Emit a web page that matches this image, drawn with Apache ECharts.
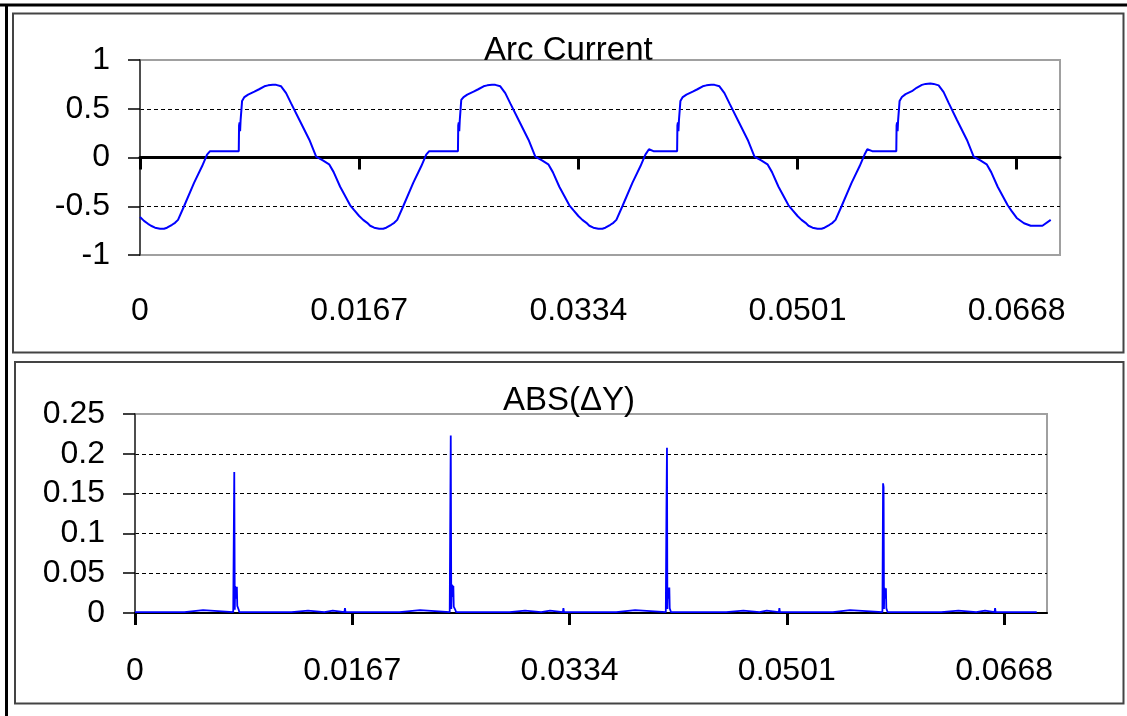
<!DOCTYPE html>
<html>
<head>
<meta charset="utf-8">
<title>Arc Current</title>
<script src="https://cdn.jsdelivr.net/npm/echarts@6/dist/echarts.min.js"></script>
<style>
    html, body { margin: 0; padding: 0; background: #fff; }
    #chart { width: 1127px; height: 716px; }
</style>
</head>
<body>
<div id="chart"></div>
<script>
// x tick labels (seconds), shared by both panels
const xTicks = [0, 0.0167, 0.0334, 0.0501, 0.0668]
const xMax = 0.0701

// Arc Current, time in ms (one row pair per cycle)
const arcTimeMs = [
    0.000, 0.305, 0.610, 0.839, 1.144, 1.525, 1.830, 2.059, 2.440, 2.669, 2.898, 3.355, 4.118, 4.728, 5.109, 5.338,
    7.526, 7.549, 7.587, 7.626, 7.664, 7.740, 7.778, 7.954, 8.236, 8.716, 9.074, 9.479, 9.761, 10.119, 10.371,
    10.752, 11.133, 11.515, 12.148, 12.910, 13.421, 13.932, 14.412, 14.756, 15.251, 16.014, 16.319,

    16.700, 17.005, 17.310, 17.539, 17.844, 18.225, 18.530, 18.759, 19.140, 19.369, 19.598, 20.055, 20.818, 21.428, 21.809, 22.038,
    24.226, 24.249, 24.287, 24.326, 24.364, 24.440, 24.478, 24.654, 24.936, 25.416, 25.774, 26.179, 26.461, 26.819, 27.071,
    27.452, 27.833, 28.215, 28.848, 29.610, 30.121, 30.632, 31.112, 31.456, 31.951, 32.714, 33.019,

    33.400, 33.705, 34.010, 34.239, 34.544, 34.925, 35.230, 35.459, 35.840, 36.069, 36.298, 36.755, 37.518, 38.128, 38.509, 38.780,
    38.890, 39.120, 40.926, 40.949, 40.987, 41.026, 41.064, 41.140, 41.178, 41.354, 41.636, 42.116, 42.474, 42.879, 43.161, 43.519, 43.771,
    44.152, 44.533, 44.915, 45.548, 46.310, 46.821, 47.332, 47.812, 48.156, 48.651, 49.414, 49.719,

    50.100, 50.405, 50.710, 50.939, 51.244, 51.625, 51.930, 52.159, 52.540, 52.769, 52.998, 53.455, 54.218, 54.828, 55.209, 55.420,
    55.560, 55.790, 57.626, 57.649, 57.687, 57.726, 57.764, 57.840, 57.878, 58.054, 58.336, 58.816, 59.174, 59.579, 59.861, 60.219, 60.471,
    60.852, 61.233, 61.615, 62.248, 63.010, 63.521, 64.032, 64.512, 64.856, 65.351, 66.114, 66.419,

    66.800, 67.357, 67.868, 68.760, 69.393
]
const arcCurrent = [
    -0.61, -0.65, -0.68, -0.70, -0.72, -0.73, -0.73, -0.72, -0.69, -0.67, -0.64, -0.50, -0.26, -0.09, 0.03, 0.065,
    0.065, 0.33, 0.36, 0.27, 0.38, 0.40, 0.58, 0.62, 0.645, 0.675, 0.70, 0.73, 0.74, 0.745, 0.745,
    0.73, 0.66, 0.555, 0.385, 0.18, 0.01, -0.03, -0.07, -0.15, -0.30, -0.49, -0.54,

    -0.60, -0.64, -0.67, -0.70, -0.72, -0.73, -0.73, -0.72, -0.69, -0.67, -0.64, -0.50, -0.26, -0.09, 0.03, 0.065,
    0.065, 0.33, 0.36, 0.27, 0.38, 0.40, 0.59, 0.62, 0.645, 0.675, 0.70, 0.73, 0.74, 0.745, 0.745,
    0.73, 0.66, 0.555, 0.385, 0.18, 0.01, -0.03, -0.07, -0.15, -0.30, -0.49, -0.54,

    -0.60, -0.64, -0.67, -0.70, -0.72, -0.73, -0.73, -0.72, -0.69, -0.67, -0.64, -0.50, -0.26, -0.09, 0.03, 0.085,
    0.085, 0.065, 0.065, 0.33, 0.36, 0.27, 0.38, 0.40, 0.58, 0.62, 0.645, 0.675, 0.70, 0.73, 0.74, 0.745, 0.745,
    0.73, 0.66, 0.555, 0.385, 0.18, 0.01, -0.03, -0.07, -0.15, -0.30, -0.49, -0.54,

    -0.60, -0.64, -0.67, -0.70, -0.72, -0.73, -0.73, -0.72, -0.69, -0.67, -0.64, -0.50, -0.26, -0.09, 0.03, 0.085,
    0.085, 0.065, 0.065, 0.33, 0.36, 0.27, 0.38, 0.40, 0.58, 0.62, 0.65, 0.68, 0.715, 0.745, 0.755, 0.76, 0.755,
    0.74, 0.67, 0.56, 0.385, 0.18, 0.01, -0.03, -0.07, -0.15, -0.30, -0.49, -0.55,

    -0.62, -0.675, -0.70, -0.70, -0.64
]

// ABS(dY), time in ms
const dyTimeMs = [
    0.00, 3.80, 3.84, 5.23, 5.27, 7.55, 7.63, 7.67, 7.70, 7.73, 7.76, 7.79, 7.83, 7.86, 7.92, 7.97, 8.02,
    12.03, 12.07, 13.30, 13.34, 14.56, 14.60, 15.20, 15.24, 16.10, 16.14, 16.18,
    20.33, 20.37, 21.91, 21.95, 24.19, 24.27, 24.31, 24.34, 24.37, 24.40, 24.43, 24.47, 24.50, 24.56, 24.62, 24.68,
    28.79, 28.83, 29.98, 30.02, 31.22, 31.26, 31.90, 31.94, 32.89, 32.93, 32.97,
    36.99, 37.03, 38.44, 38.48, 40.80, 40.85, 40.89, 40.92, 40.95, 40.98, 41.01, 41.04, 41.07, 41.10, 41.15, 41.20,
    45.44, 45.48, 46.76, 46.80, 48.00, 48.04, 48.56, 48.60, 49.49, 49.53, 49.57,
    53.64, 53.68, 54.96, 55.00, 57.45, 57.50, 57.54, 57.57, 57.60, 57.63, 57.66, 57.69, 57.72, 57.75, 57.80, 57.85,
    61.97, 62.01, 63.29, 63.33, 64.66, 64.70, 65.34, 65.38, 66.07, 66.11, 66.15, 69.31
]
const dyValue = [
    0.001, 0.001, 0.0035, 0.0035, 0.001, 0.001, 0.177, 0.004, 0.034, 0.018, 0.032, 0.024, 0.033, 0.009, 0.008, 0.004, 0.001,
    0.001, 0.003, 0.003, 0.001, 0.001, 0.003, 0.003, 0.001, 0.001, 0.006, 0.001,
    0.001, 0.0035, 0.0035, 0.001, 0.001, 0.223, 0.005, 0.036, 0.020, 0.035, 0.026, 0.034, 0.008, 0.006, 0.004, 0.001,
    0.001, 0.003, 0.003, 0.001, 0.001, 0.003, 0.003, 0.001, 0.001, 0.006, 0.001,
    0.001, 0.0035, 0.0035, 0.001, 0.001, 0.130, 0.2075, 0.005, 0.032, 0.018, 0.031, 0.024, 0.032, 0.006, 0.004, 0.001,
    0.001, 0.003, 0.003, 0.001, 0.001, 0.003, 0.003, 0.001, 0.001, 0.006, 0.001,
    0.001, 0.0035, 0.0035, 0.001, 0.001, 0.163, 0.158, 0.005, 0.032, 0.018, 0.030, 0.022, 0.031, 0.006, 0.004, 0.001,
    0.001, 0.003, 0.003, 0.001, 0.001, 0.003, 0.003, 0.001, 0.001, 0.006, 0.001, 0.001
]

const FONT = 'Liberation Sans, Arial, sans-serif'
const labelStyle = { color: '#000', fontSize: 32, fontFamily: FONT }
const dashed = { color: '#000', width: 1, type: [4, 3] }

const toPairs = (times, values) => times.map((t, i) => [t / 1000, values[i]])

const xAxisBase = (gridIndex, lineWidth, margin) => ({
    type: 'value',
    gridIndex,
    min: 0,
    max: xMax,
    interval: 0.0167,
    axisLine: { onZero: true, lineStyle: { color: '#000', width: lineWidth } },
    axisTick: { show: true, inside: false, length: 12, customValues: xTicks, lineStyle: { color: '#000', width: 3 } },
    axisLabel: Object.assign({ margin, customValues: xTicks, formatter: v => '' + (+v.toFixed(4)) }, labelStyle),
    splitLine: { show: false }
})

const yAxisBase = (gridIndex, min, max, interval) => ({
    type: 'value',
    gridIndex,
    min, max, interval,
    axisLine: { show: true, onZero: false, lineStyle: { color: '#333', width: 1.5 } },
    axisTick: { show: true, inside: false, length: 12, lineStyle: { color: '#000', width: 1.5 } },
    axisLabel: Object.assign({ margin: 30 }, labelStyle),
    splitLine: { show: true, showMinLine: false, showMaxLine: false, lineStyle: dashed }
})

const myChart = echarts.init(document.getElementById('chart'))

myChart.setOption({
    animation: false,
    backgroundColor: '#fff',
    textStyle: { fontFamily: FONT },
    title: [
        { text: 'Arc Current', left: 484, top: 34, padding: 0, textStyle: { fontSize: 33, fontWeight: 'normal', color: '#000', fontFamily: FONT } },
        { text: 'ABS(ΔY)', left: 503, top: 384, padding: 0, textStyle: { fontSize: 33, fontWeight: 'normal', color: '#000', fontFamily: FONT } }
    ],
    grid: [
        { left: 140, top: 60, width: 920, height: 195, show: true, borderColor: '#a0a0a0', borderWidth: 2, backgroundColor: '#fff' },
        { left: 135, top: 414, width: 912, height: 199, show: true, borderColor: '#a0a0a0', borderWidth: 2, backgroundColor: '#fff' }
    ],
    xAxis: [
        xAxisBase(0, 3, 40),
        xAxisBase(1, 2, 42)
    ],
    yAxis: [
        yAxisBase(0, -1, 1, 0.5),
        yAxisBase(1, 0, 0.25, 0.05)
    ],
    series: [
        {
            type: 'line',
            xAxisIndex: 0,
            yAxisIndex: 0,
            symbol: 'none',
            lineStyle: { color: '#0000ff', width: 2 },
            data: toPairs(arcTimeMs, arcCurrent)
        },
        {
            type: 'line',
            xAxisIndex: 1,
            yAxisIndex: 1,
            symbol: 'none',
            lineStyle: { color: '#0000ff', width: 1.8 },
            data: toPairs(dyTimeMs, dyValue)
        }
    ],
    // panel frames
    graphic: [
        { type: 'line', shape: { x1: 0, y1: 5, x2: 1127, y2: 5 }, style: { stroke: '#000', lineWidth: 3 } },
        { type: 'line', shape: { x1: 6.5, y1: 5, x2: 6.5, y2: 716 }, style: { stroke: '#000', lineWidth: 3 } },
        { type: 'rect', shape: { x: 13, y: 13.5, width: 1110.5, height: 339 }, style: { fill: 'none', stroke: '#444', lineWidth: 2 } },
        { type: 'rect', shape: { x: 15, y: 362, width: 1108.5, height: 341.5 }, style: { fill: 'none', stroke: '#444', lineWidth: 2 } }
    ]
})
</script>
</body>
</html>
